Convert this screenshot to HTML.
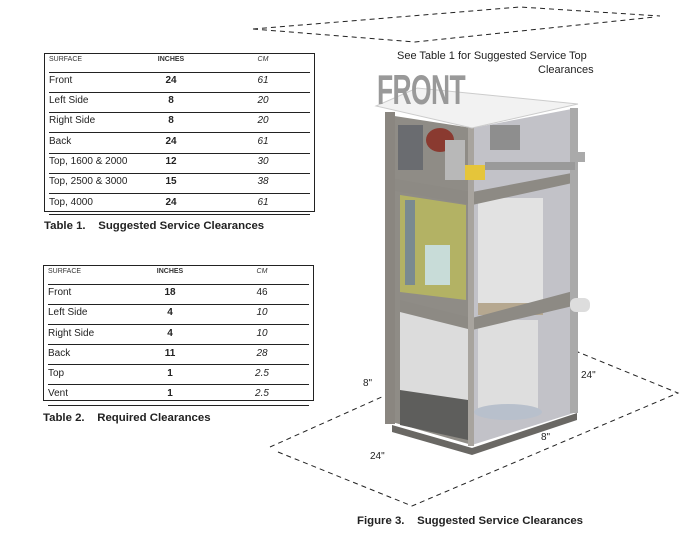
<!DOCTYPE html>
<html><head><meta charset="utf-8"><style>
body{margin:0;width:685px;height:538px;background:#fff;overflow:hidden;position:relative;font-family:"Liberation Sans",sans-serif;color:#222}
.t{position:absolute;font-size:10px;white-space:nowrap}
.h{font-size:7px;color:#333}
.b{font-weight:bold}
.i{font-style:italic}
.c{transform:translateX(-50%)}
.cap{position:absolute;font-size:11.4px;font-weight:bold;white-space:nowrap;color:#222}
</style></head><body>
<svg width="685" height="538" style="position:absolute;left:0;top:0">
<rect x="44.5" y="53.5" width="270" height="158" fill="none" stroke="#222"/>
<rect x="43.5" y="265.5" width="270" height="135" fill="none" stroke="#222"/>
<g stroke="#222">
<line x1="49" x2="310" y1="72.5" y2="72.5"/><line x1="49" x2="310" y1="92.5" y2="92.5"/><line x1="49" x2="310" y1="112.5" y2="112.5"/><line x1="49" x2="310" y1="132.5" y2="132.5"/><line x1="49" x2="310" y1="153.5" y2="153.5"/><line x1="49" x2="310" y1="173.5" y2="173.5"/><line x1="49" x2="310" y1="193.5" y2="193.5"/><line x1="49" x2="310" y1="214.5" y2="214.5"/>
<line x1="48" x2="309" y1="284.5" y2="284.5"/><line x1="48" x2="309" y1="304.5" y2="304.5"/><line x1="48" x2="309" y1="324.5" y2="324.5"/><line x1="48" x2="309" y1="344.5" y2="344.5"/><line x1="48" x2="309" y1="364.5" y2="364.5"/><line x1="48" x2="309" y1="384.5" y2="384.5"/><line x1="48" x2="309" y1="405.5" y2="405.5"/>
</g>
<g fill="none" stroke="#222" stroke-width="1" stroke-dasharray="5,4">
<polyline points="253,29 520,7 660,16"/>
<polyline points="253,29 415,42 655,17"/>
<polyline points="270,447 384,396"/>
<polyline points="278,452 412,506 678,393 573,350"/>
</g>
<polygon points="388,115 472,128 472,445 392,422" fill="#8f8c86"/>
<polygon points="472,128 577,108 577,412 472,445" fill="#c2c2c8"/>
<polygon points="400,195 466,205 466,300 400,292" fill="#b3b264"/>
<rect x="405" y="200" width="10" height="85" fill="#7a8a90"/>
<rect x="425" y="245" width="25" height="40" fill="#c8dcd8"/>
<polygon points="400,308 468,318 468,405 400,395" fill="#dcdcdc"/>
<polygon points="400,390 468,400 468,440 400,425" fill="#5e5e5c"/>
<rect x="478" y="198" width="65" height="105" fill="#e2e2e2"/>
<rect x="478" y="303" width="65" height="12" fill="#b6a890"/>
<rect x="478" y="320" width="60" height="95" fill="#dedede"/>
<ellipse cx="508" cy="412" rx="34" ry="8" fill="#b8c0cc"/>
<polygon points="390,178 472,192 577,172 577,182 472,205 390,190" fill="#8d8a84"/>
<polygon points="400,300 472,318 577,290 577,305 472,330 400,312" fill="#8d8a84"/>
<rect x="468" y="128" width="6" height="318" fill="#a8a49e"/>
<rect x="570" y="108" width="8" height="305" fill="#aaa"/>
<rect x="385" y="112" width="10" height="312" fill="#8a8680"/>
<ellipse cx="440" cy="140" rx="14" ry="12" fill="#8a3a30"/>
<rect x="445" y="140" width="20" height="40" fill="#b8b8b8"/>
<rect x="465" y="165" width="20" height="15" fill="#e5c53a"/>
<rect x="485" y="162" width="90" height="8" fill="#9a9a9a"/>
<rect x="490" y="125" width="30" height="25" fill="#8e8e8e"/>
<rect x="575" y="152" width="10" height="10" fill="#aaa"/>
<rect x="570" y="298" width="20" height="14" rx="6" fill="#ddd"/>
<rect x="398" y="125" width="25" height="45" fill="#6a6c70"/>
<polygon points="376,106 417,88 578,104 472,128" fill="#f2f2f2" stroke="#ccc"/>
<polygon points="392,425 472,448 577,413 577,420 472,455 392,432" fill="#6a6864"/>
</svg>
<div style="position:absolute;left:377px;top:66px;font-size:42px;font-weight:bold;color:#999;transform:scaleX(0.63);transform-origin:left top;letter-spacing:-1px">FRONT</div>

<div class="t h" style="left:49px;top:56px">SURFACE</div>
<div class="t h b c" style="left:171px;top:56px">INCHES</div>
<div class="t h i c" style="left:263px;top:56px">CM</div>
<div class="t" style="left:49px;top:75px">Front</div><div class="t b c" style="left:171px;top:75px">24</div><div class="t i c" style="left:263px;top:75px">61</div>
<div class="t" style="left:49px;top:95px">Left Side</div><div class="t b c" style="left:171px;top:95px">8</div><div class="t i c" style="left:263px;top:95px">20</div>
<div class="t" style="left:49px;top:115px">Right Side</div><div class="t b c" style="left:171px;top:115px">8</div><div class="t i c" style="left:263px;top:115px">20</div>
<div class="t" style="left:49px;top:136px">Back</div><div class="t b c" style="left:171px;top:136px">24</div><div class="t i c" style="left:263px;top:136px">61</div>
<div class="t" style="left:49px;top:156px">Top, 1600 &amp; 2000</div><div class="t b c" style="left:171px;top:156px">12</div><div class="t i c" style="left:263px;top:156px">30</div>
<div class="t" style="left:49px;top:176px">Top, 2500 &amp; 3000</div><div class="t b c" style="left:171px;top:176px">15</div><div class="t i c" style="left:263px;top:176px">38</div>
<div class="t" style="left:49px;top:197px">Top, 4000</div><div class="t b c" style="left:171px;top:197px">24</div><div class="t i c" style="left:263px;top:197px">61</div>
<div class="cap" style="left:44px;top:220px">Table 1.&nbsp;&nbsp;&nbsp; Suggested Service Clearances</div>

<div class="t h" style="left:48px;top:268px">SURFACE</div>
<div class="t h b c" style="left:170px;top:268px">INCHES</div>
<div class="t h i c" style="left:262px;top:268px">CM</div>
<div class="t" style="left:48px;top:287px">Front</div><div class="t b c" style="left:170px;top:287px">18</div><div class="t c" style="left:262px;top:287px">46</div>
<div class="t" style="left:48px;top:307px">Left Side</div><div class="t b c" style="left:170px;top:307px">4</div><div class="t i c" style="left:262px;top:307px">10</div>
<div class="t" style="left:48px;top:328px">Right Side</div><div class="t b c" style="left:170px;top:328px">4</div><div class="t i c" style="left:262px;top:328px">10</div>
<div class="t" style="left:48px;top:348px">Back</div><div class="t b c" style="left:170px;top:348px">11</div><div class="t i c" style="left:262px;top:348px">28</div>
<div class="t" style="left:48px;top:368px">Top</div><div class="t b c" style="left:170px;top:368px">1</div><div class="t i c" style="left:262px;top:368px">2.5</div>
<div class="t" style="left:48px;top:388px">Vent</div><div class="t b c" style="left:170px;top:388px">1</div><div class="t i c" style="left:262px;top:388px">2.5</div>
<div class="cap" style="left:43px;top:412px">Table 2.&nbsp;&nbsp;&nbsp; Required Clearances</div>

<div class="t" style="left:397px;top:50px;font-size:11px">See Table 1 for Suggested Service Top</div>
<div class="t" style="left:538px;top:64px;font-size:11px">Clearances</div>
<div class="t" style="left:363px;top:378px">8"</div>
<div class="t" style="left:370px;top:451px">24"</div>
<div class="t" style="left:541px;top:432px">8"</div>
<div class="t" style="left:581px;top:370px">24"</div>
<div class="cap" style="left:357px;top:515px">Figure 3.&nbsp;&nbsp;&nbsp; Suggested Service Clearances</div>
</body></html>
